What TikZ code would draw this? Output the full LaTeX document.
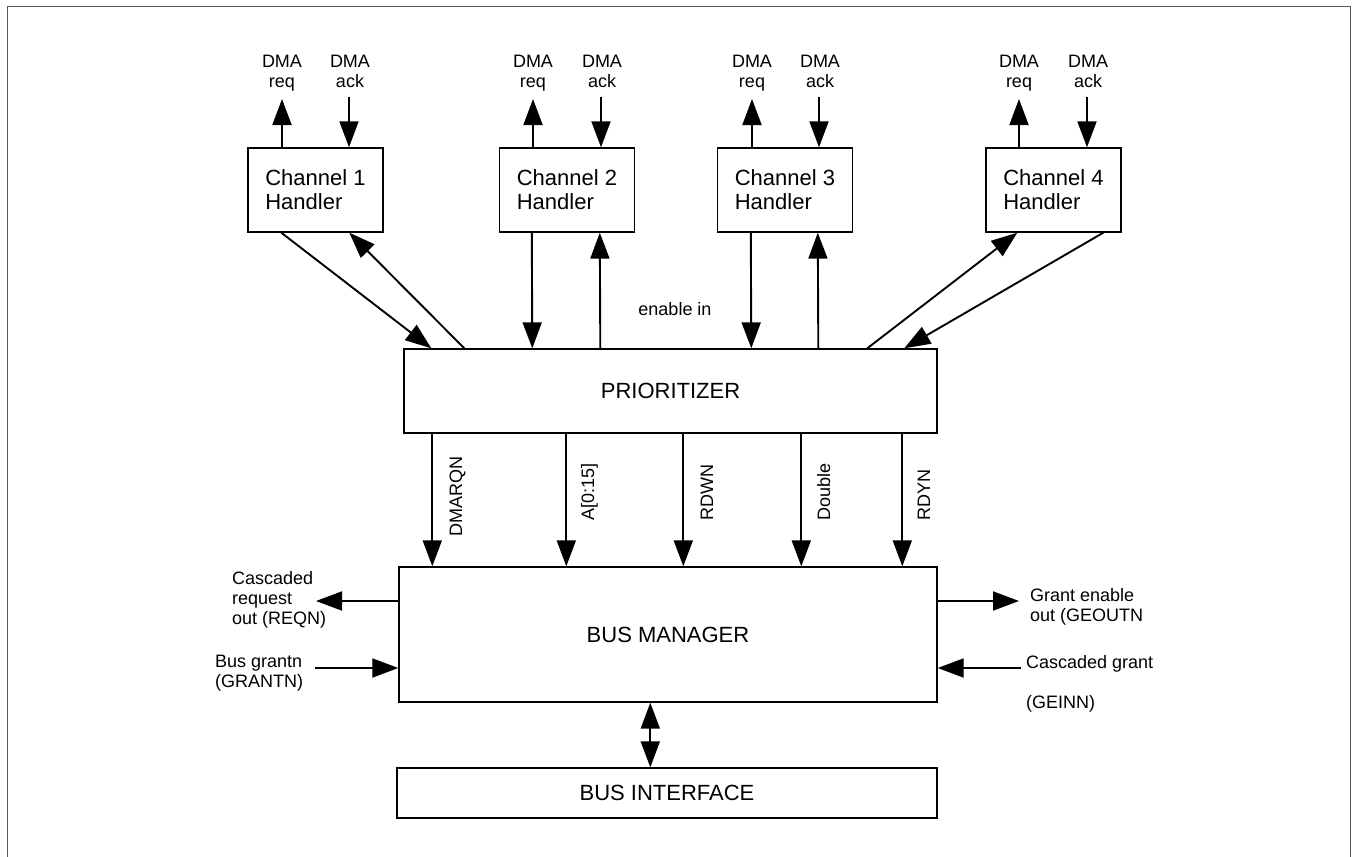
\documentclass[tikz,border=0pt]{standalone}
\usepackage{fontspec}
\setmainfont{Liberation Sans}
\usetikzlibrary{arrows.meta}
\begin{document}
\begin{tikzpicture}[x=1pt,y=-1pt,
  box/.style={draw,line width=1.4pt,rectangle,inner sep=0pt,font=\fontsize{22}{24}\selectfont},
  chan/.style={box,minimum width=135pt,minimum height=84pt,align=left},
  lbl/.style={inner sep=0pt,font=\fontsize{18}{20}\selectfont},
  tip/.tip={Triangle[length=26pt 0 0,width=19pt 0 0]},
  arr/.style={line width=1.9pt,-tip},
  dbl/.style={line width=1.9pt,tip-tip},
  frame/.style={line width=1pt,black!65}
]
\useasboundingbox (0,0) rectangle (1353,857);
\draw[frame] (7,870) -- (7,6) -- (1350,6) -- (1350,870);

% channel handlers with DMA req / ack
\foreach \i/\cx/\rx/\ax in {1/315.5/282/349,2/567/533/601,3/785/752/819,4/1053.5/1019/1087}{
  \node[chan] (ch\i) at (\cx,190) {Channel \i\\Handler};
  \coordinate (r\i) at (\rx,99);
  \coordinate (a\i) at (\ax,97);
  \draw[arr] (ch\i.north -| r\i) -- (r\i);
  \draw[arr] (a\i) -- (ch\i.north -| a\i);
  \node[lbl,align=center,anchor=north] (lr\i) at (\rx,55) {DMA\\req};
  \node[lbl,align=center,anchor=north] (la\i) at (\ax+1,55) {DMA\\ack};
}

\node[box,minimum width=533pt,minimum height=84pt] (prio) at (670.5,391) {PRIORITIZER};
\node[box,minimum width=538pt,minimum height=135pt] (bm) at (668,634.5) {BUS MANAGER};
\node[box,minimum width=540pt,minimum height=50pt] (bi) at (667,793) {BUS INTERFACE};

% channel <-> prioritizer
\draw[arr] ([xshift=34pt]ch1.south west) -- ([xshift=28pt]prio.north west);
\draw[arr] ([xshift=61pt]prio.north west) -- ([xshift=102pt]ch1.south west);
\draw[arr] ([xshift=33pt]ch2.south west) -- ([xshift=129pt]prio.north west);
\draw[arr] ([xshift=197pt]prio.north west) -- ([xshift=101pt]ch2.south west);
\draw[arr] ([xshift=34pt]ch3.south west) -- ([xshift=348pt]prio.north west);
\draw[arr] ([xshift=415pt]prio.north west) -- ([xshift=101pt]ch3.south west);
\draw[arr] ([xshift=464pt]prio.north west) -- ([xshift=32pt]ch4.south west);
\draw[arr] ([xshift=118pt]ch4.south west) -- ([xshift=501pt]prio.north west);

\node[lbl,anchor=base] (en) at (675,315) {enable in};

% prioritizer -> bus manager
\draw[arr] ([xshift=29pt]prio.south west) -- ([xshift=34pt]bm.north west);
\draw[arr] ([xshift=163pt]prio.south west) -- ([xshift=168pt]bm.north west);
\draw[arr] ([xshift=280pt]prio.south west) -- ([xshift=285pt]bm.north west);
\draw[arr] ([xshift=398pt]prio.south west) -- ([xshift=403pt]bm.north west);
\draw[arr] ([xshift=499pt]prio.south west) -- ([xshift=504pt]bm.north west);

\node[lbl,rotate=90,anchor=base west] (s1) at (462,537) {DMARQN};
\node[lbl,rotate=90,anchor=base west] (s2) at (594,521) {A[0:15]};
\node[lbl,rotate=90,anchor=base west] (s3) at (713,521) {RDWN};
\node[lbl,rotate=90,anchor=base west] (s4) at (830,521) {Double};
\node[lbl,rotate=90,anchor=base west] (s5) at (930,521) {RDYN};

% bus manager side signals
\coordinate (reqc) at (316,601);
\coordinate (grc) at (315,668);
\coordinate (geoc) at (1019,601);
\coordinate (geic) at (1021,668);
\draw[arr] (bm.west |- reqc) -- (reqc);
\draw[arr] (grc) -- (bm.west |- grc);
\draw[arr] (bm.east |- geoc) -- (geoc);
\draw[arr] (geic) -- (bm.east |- geic);

\node[lbl,align=left,anchor=north west] (reql) at (232,571) {Cascaded\\request\\out (REQN)};
\node[lbl,align=left,anchor=north west] (grl) at (215,655) {Bus grantn\\(GRANTN)};
\node[lbl,align=left,anchor=north west] (geol) at (1030,588) {Grant enable\\out (GEOUTN};
\node[lbl,align=left,anchor=north west] (geil) at (1026,655) {Cascaded grant\\[20pt](GEINN)};

% bus manager <-> bus interface
\draw[dbl] ([xshift=252pt]bm.south west) -- ([xshift=254pt]bi.north west);
\end{tikzpicture}
\end{document}
